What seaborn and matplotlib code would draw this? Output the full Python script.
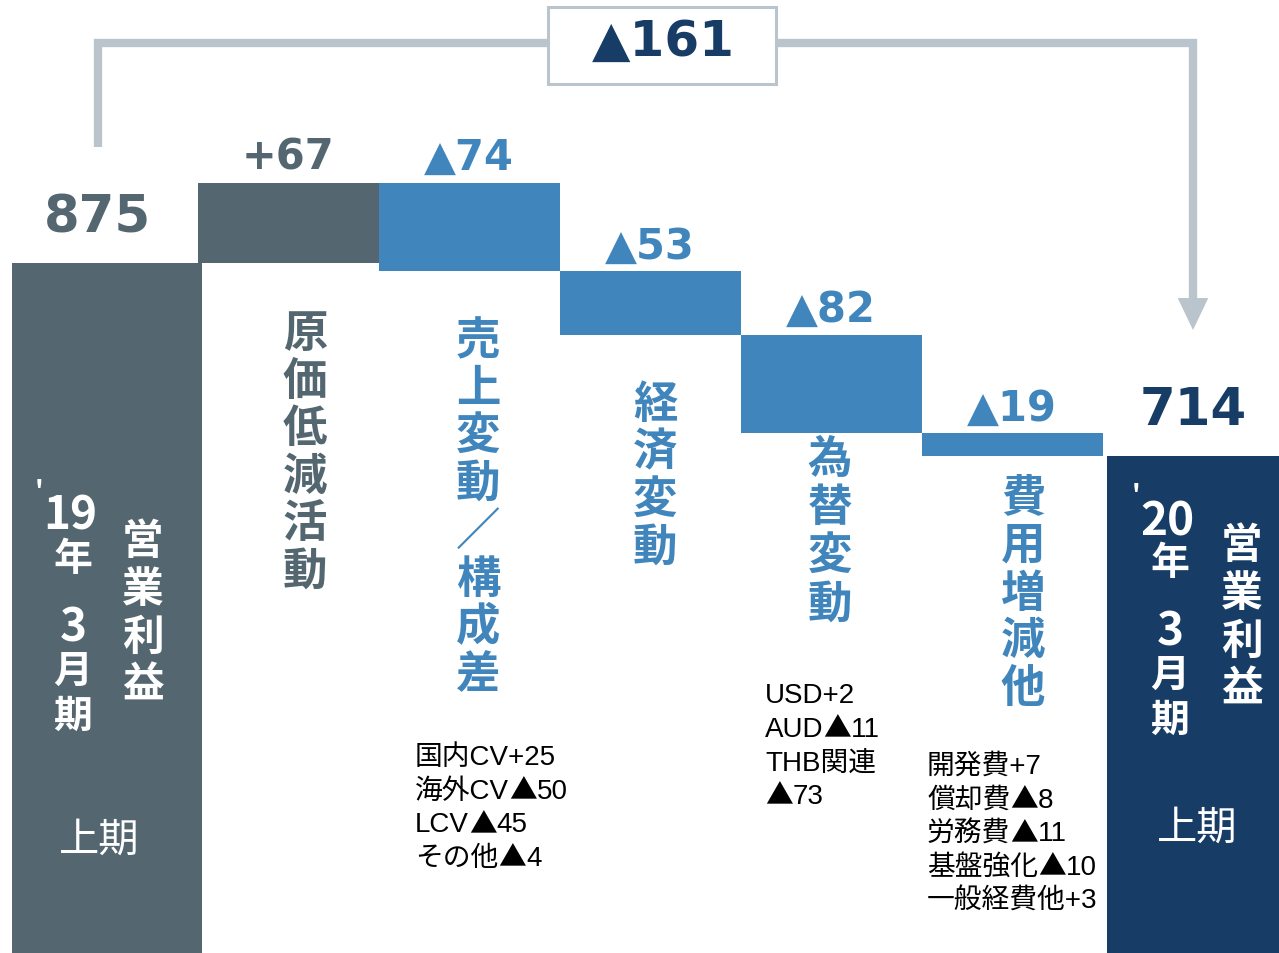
import re
import numpy as np
import pandas as pd
import matplotlib
matplotlib.use("Agg")
import matplotlib.pyplot as plt
import seaborn as sns
from matplotlib.patches import Rectangle

# ---- data ----
start_label = "'19年3月期上期営業利益"
end_label = "'20年3月期上期営業利益"
start_total = 875
end_total = 714
step_names = ["原価低減活動", "売上変動／構成差", "経済変動", "為替変動", "費用増減他"]
step_values = [67, -74, -53, -82, -19]
value_texts = ["875", "+67", "▲74", "▲53", "▲82", "▲19", "714"]
diff_text = "▲161"

notes_sales = ["国内CV+25", "海外CV▲50", "LCV▲45", "その他▲4"]
notes_fx = ["USD+2", "AUD▲11", "THB関連", "▲73"]
notes_cost = ["開発費+7", "償却費▲8", "労務費▲11", "基盤強化▲10", "一般経費他+3"]

# ---- colours ----
SLATE = "#546770"
BLUE = "#4086bd"
NAVY = "#173d66"
GREY = "#b9c4cc"

W, H = 1279, 954


def fx(x):
    return x / W


def fy(y):
    return 1 - y / H


levels = start_total + np.cumsum(step_values)
bars = pd.DataFrame({
    "pos": np.arange(7),
    "bottom": [0] + list(np.minimum(np.r_[start_total, levels[:-1]], levels)) + [0],
    "height": [start_total] + [abs(v) for v in step_values] + [end_total],
    "top": [start_total] + list(np.maximum(np.r_[start_total, levels[:-1]], levels)) + [end_total],
    "color": [SLATE, SLATE, BLUE, BLUE, BLUE, BLUE, NAVY],
    "width": [1.05, 1, 1, 1, 1, 1, 0.95],
})

sns.set_theme(style="white")
plt.rcParams['font.family'] = ['Noto Sans CJK JP', 'DejaVu Sans']

fig = plt.figure(figsize=(W / 100, H / 100), dpi=100)
ax = fig.add_axes([0, 0, 1, 1])

for _, r in bars.iterrows():
    sns.barplot(x=[r["pos"]], y=[r["height"]], bottom=r["bottom"], native_scale=True,
                width=r["width"], color=r["color"], saturation=1, errorbar=None,
                linewidth=0, ax=ax)

ax.set_xlim(-107 / 181, -107 / 181 + W / 181)
ax.set_ylim(300, 300 + H / 1.2)
ax.axis("off")

# value labels above bars
label_colors = [SLATE, SLATE, BLUE, BLUE, BLUE, BLUE, NAVY]
for i, r in bars.iterrows():
    total = i in (0, 6)
    ax.annotate(value_texts[i], (r["pos"] - (0.05 if i == 0 else 0), r["top"]),
                xytext=(0, 32 if total else 14), textcoords="offset pixels",
                ha="center", va="baseline", fontsize=37 if total else 30,
                fontweight="bold", color=label_colors[i], family="DejaVu Sans")

# bracket with difference
xt = ax.get_xaxis_transform()
ax.plot([-0.05, -0.05, 6, 6], [fy(148), fy(44), fy(44), fy(300)], color=GREY,
        lw=6, solid_capstyle="butt", solid_joinstyle="miter", transform=xt, zorder=2)
ax.annotate("", xy=(6, fy(331)), xytext=(6, fy(296)), xycoords=xt, textcoords=xt,
            arrowprops=dict(arrowstyle="-|>,head_length=1.15,head_width=0.55",
                            mutation_scale=20, color=GREY, lw=0, shrinkA=0, shrinkB=0))
ax.add_patch(Rectangle((fx(548), fy(85)), 228 / W, 77 / H, transform=ax.transAxes,
                       facecolor="white", edgecolor=GREY, lw=2.2, zorder=3))
ax.text(fx(663), fy(42), diff_text, transform=ax.transAxes, ha="center", va="center",
        fontsize=36, fontweight="bold", color=NAVY, family="DejaVu Sans", zorder=4)


# vertical category labels (one character per line)
def vtext(s, x, y0, pitch, color, size, weight="bold"):
    for k, ch in enumerate(s):
        fig.text(fx(x), fy(y0 + k * pitch), ch, ha="center", va="center",
                 fontsize=size, fontweight=weight, color=color)


vtext(step_names[0], 305, 334, 47.6, SLATE, 32)
vtext(step_names[1], 478, 341, 47.7, BLUE, 32)
vtext(step_names[2], 655, 405, 47.7, BLUE, 32)
vtext(step_names[3], 830, 460, 48.2, BLUE, 32)
vtext(step_names[4], 1023, 498, 47.8, BLUE, 32)


# text inside the total bars
def total_text(label, xl, xr, ys, y_half):
    year = label[1:3]
    fig.text(fx(xl - 31), fy(ys[0] - 26), "'", ha="center", va="center",
             fontsize=19, color="white", fontweight="bold")
    fig.text(fx(xl), fy(ys[0]), year, ha="center", va="center", fontsize=33,
             color="white", fontweight="bold")
    for ch, y in zip(label[3:7], ys[1:]):
        fig.text(fx(xl + 3), fy(y), ch, ha="center", va="center",
                 fontsize=33 if ch.isdigit() else 28, color="white", fontweight="bold")
    for k, ch in enumerate(label[-4:]):
        fig.text(fx(xr), fy(y_half[0] + k * 48), ch, ha="center", va="center",
                 fontsize=30, color="white", fontweight="bold")
    fig.text(fx((xl + xr) / 2 - 7), fy(y_half[1]), label[7:9], ha="center",
             va="center", fontsize=29, color="white")


total_text(start_label, 70, 143, [517, 559, 628, 671, 716], [542, 840])
total_text(end_label, 1167, 1242, [522, 564, 632, 675, 720], [546, 828])

# breakdown notes: ▲ drawn with the CJK font (full-width), the rest Arial-like
renderer = fig.canvas.get_renderer()
LATIN = ["Liberation Sans", "Noto Sans CJK JP"]


def notes(lines, x, y0, pitch=33.6, size=20):
    for k, s in enumerate(lines):
        cur = x
        for run in re.findall(r"▲+|[^▲]+", s):
            fam = ["Noto Sans CJK JP"] if run.startswith("▲") else LATIN
            t = fig.text(fx(cur), fy(y0 + k * pitch), run, ha="left", va="center",
                         fontsize=size, color="black", family=fam)
            cur += t.get_window_extent(renderer).width


notes(notes_sales, 415, 758)
notes(notes_fx, 765, 696)
notes(notes_cost, 927, 767)

fig.savefig("out.png", dpi=100)
